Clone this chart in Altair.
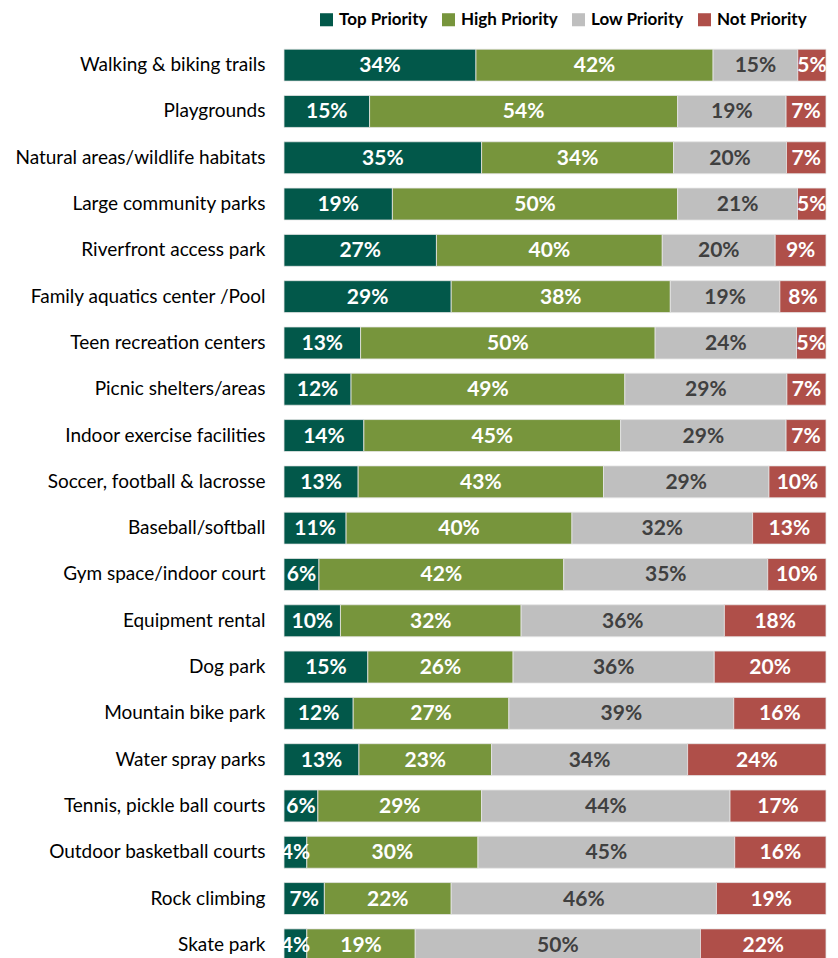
import altair as alt
import pandas as pd

categories = [
    "Walking & biking trails", "Playgrounds", "Natural areas/wildlife habitats",
    "Large community parks", "Riverfront access park", "Family aquatics center /Pool",
    "Teen recreation centers", "Picnic shelters/areas", "Indoor exercise facilities",
    "Soccer, football & lacrosse", "Baseball/softball", "Gym space/indoor court",
    "Equipment rental", "Dog park", "Mountain bike park", "Water spray parks",
    "Tennis, pickle ball courts", "Outdoor basketball courts", "Rock climbing", "Skate park",
]
top_priority = [34, 15, 35, 19, 27, 29, 13, 12, 14, 13, 11, 6, 10, 15, 12, 13, 6, 4, 7, 4]
high_priority = [42, 54, 34, 50, 40, 38, 50, 49, 45, 43, 40, 42, 32, 26, 27, 23, 29, 30, 22, 19]
low_priority = [15, 19, 20, 21, 20, 19, 24, 29, 29, 29, 32, 35, 36, 36, 39, 34, 44, 45, 46, 50]
not_priority = [5, 7, 7, 5, 9, 8, 5, 7, 7, 10, 13, 10, 18, 20, 16, 24, 17, 16, 19, 22]

series = ["Top Priority", "High Priority", "Low Priority", "Not Priority"]
colors = ["#02584A", "#77953C", "#BFBFBF", "#AF4F49"]
text_colors = ["white", "white", "#404040", "white"]

rows = []
for i, c in enumerate(categories):
    for j, (s, vals) in enumerate(zip(series, [top_priority, high_priority, low_priority, not_priority])):
        rows.append({"category": c, "series": s, "order": j, "value": vals[i],
                     "label": f"{vals[i]}%", "tcolor": text_colors[j]})
df = pd.DataFrame(rows)

base = alt.Chart(df).transform_stack(
    stack="value", groupby=["category"], as_=["x0", "x1"],
    sort=[alt.SortField("order", order="ascending")], offset="normalize"
).transform_calculate(mid="(datum.x0 + datum.x1) / 2")

yenc = alt.Y("category:N", sort=categories, title=None,
             scale=alt.Scale(paddingInner=0.31, paddingOuter=0.155),
             axis=alt.Axis(domain=False, ticks=False, labelPadding=19, labelFont="Lato",
                           labelFontSize=19, labelColor="#000000", labelLimit=300))

bars = base.mark_bar(stroke="#e6e6e6", strokeWidth=0.8).encode(
    x=alt.X("x0:Q", axis=None, scale=alt.Scale(domain=[0, 1], nice=False)),
    x2="x1:Q",
    y=yenc,
    color=alt.Color("series:N", sort=series,
                    scale=alt.Scale(domain=series, range=colors),
                    legend=alt.Legend(title=None, orient="none", direction="horizontal",
                                      legendX=34, legendY=-31, symbolType="square",
                                      symbolSize=170, symbolStrokeWidth=0,
                                      labelFont="Lato", labelFontSize=17,
                                      labelFontWeight="bold", labelColor="#000000",
                                      columnPadding=12, labelOffset=4)),
)

texts = base.mark_text(font="Lato", fontSize=21, fontWeight="bold", dy=1).encode(
    x=alt.X("mid:Q"),
    y=alt.Y("category:N", sort=categories),
    text="label:N",
    color=alt.Color("tcolor:N", scale=None),
)

chart = alt.layer(bars, texts).properties(
    width=542, height=926,
    autosize=alt.AutoSizeParams(type="none"),
    padding={"left": 276, "top": 34, "right": 4, "bottom": 0},
).configure_view(stroke=None)

chart.save("out.html", embed_options={"renderer": "svg", "actions": False})
